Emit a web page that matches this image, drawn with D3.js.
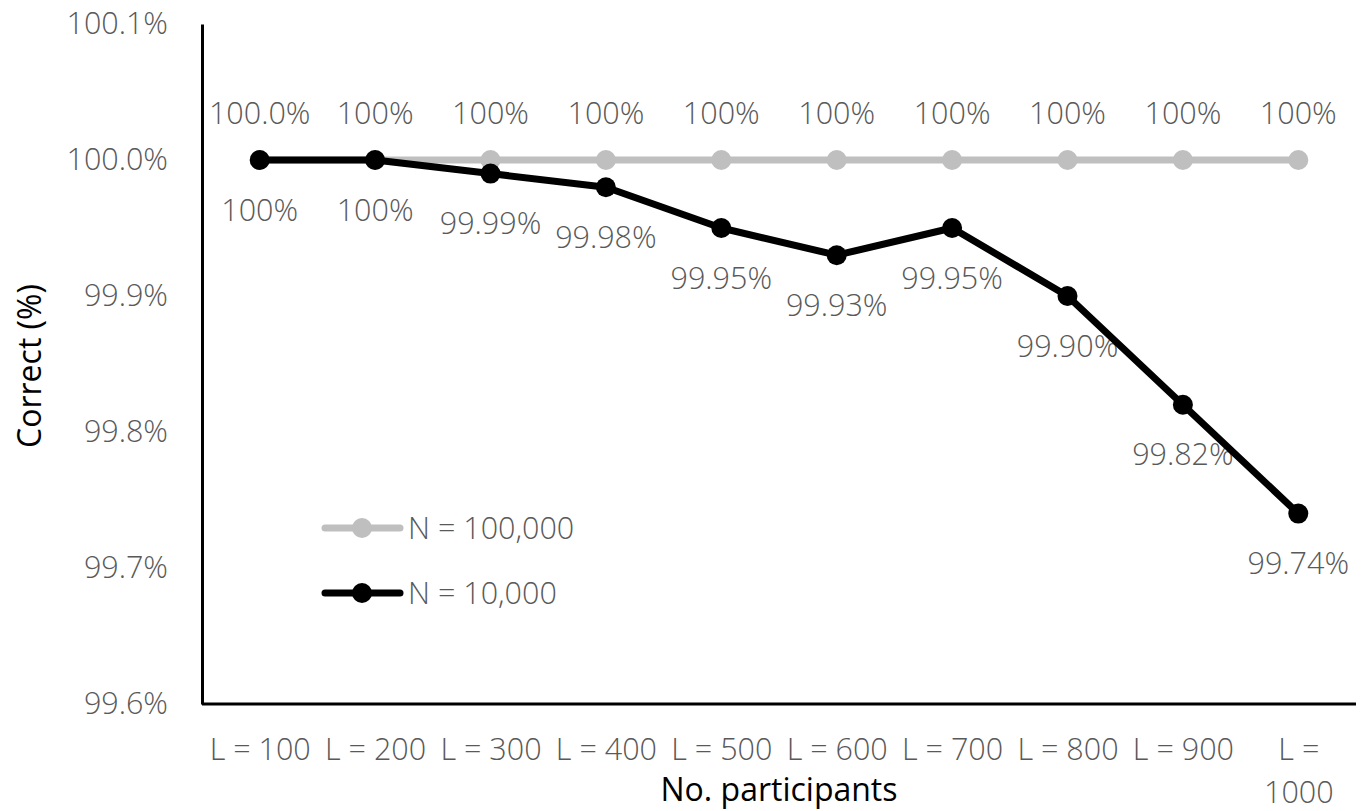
<!DOCTYPE html>
<html>
<head>
<meta charset="utf-8">
<script src="https://cdn.jsdelivr.net/npm/d3@7"></script>
<style>
  html, body { margin: 0; padding: 0; background: #fff; }
  svg { display: block; font-family: "Open Sans", "Liberation Sans", sans-serif; }
</style>
</head>
<body>
<svg id="chart" width="1366" height="811"></svg>
<script>
// Categories (number of participants per run)
const categories = ["L = 100", "L = 200", "L = 300", "L = 400", "L = 500",
                    "L = 600", "L = 700", "L = 800", "L = 900", "L = 1000"];

// Percentage correct for each population size
const seriesNames = ["N = 100,000", "N = 10,000"];
const valuesN100k = [100, 100, 100, 100, 100, 100, 100, 100, 100, 100];
const valuesN10k  = [100, 100, 99.99, 99.98, 99.95, 99.93, 99.95, 99.90, 99.82, 99.74];

// Data label text as printed next to each point
const labelsN100k = ["100.0%", "100%", "100%", "100%", "100%", "100%", "100%", "100%", "100%", "100%"];
const labelsN10k  = ["100%", "100%", "99.99%", "99.98%", "99.95%", "99.93%", "99.95%", "99.90%", "99.82%", "99.74%"];

// Y axis ticks
const yTicks = [99.6, 99.7, 99.8, 99.9, 100.0, 100.1];

const svg = d3.select("#chart");
const plot = { left: 202, right: 1356, top: 24, bottom: 704 };

const x = d3.scalePoint().domain(categories).range([plot.left, plot.right]).padding(0.5);
const y = d3.scaleLinear().domain([99.6, 100.1]).range([plot.bottom, plot.top]);

const labelColor = "#595959";
const fontSize = 30.5;
const titleSize = 32;
const labelWeight = 300;

// Y axis (line only, labels on the left)
const yAxis = d3.axisLeft(y).tickValues(yTicks).tickSize(0).tickPadding(34)
  .tickFormat(d => d.toFixed(1) + "%");
const gy = svg.append("g").attr("transform", `translate(${plot.left},0)`).call(yAxis);
gy.select(".domain").attr("stroke", "#000").attr("stroke-width", 3);
gy.selectAll("text").attr("fill", labelColor).attr("font-size", fontSize)
  .attr("font-weight", labelWeight)
  .attr("font-family", "'Open Sans', sans-serif");

// X axis
const xAxis = d3.axisBottom(x).tickSize(0).tickPadding(0).tickFormat("");
const gx = svg.append("g").attr("transform", `translate(0,${plot.bottom})`).call(xAxis);
gx.select(".domain").attr("stroke", "#000").attr("stroke-width", 3)
  .attr("d", `M${plot.left},0H${plot.right}`);

// X tick labels; the last one wraps onto two lines
gx.selectAll(".tick").each(function(d) {
  const t = d3.select(this).append("text")
    .attr("fill", labelColor).attr("font-size", fontSize)
    .attr("font-weight", labelWeight)
    .attr("text-anchor", "middle")
    .attr("font-family", "'Open Sans', sans-serif");
  if (d === "L = 1000") {
    t.append("tspan").attr("x", 0).attr("y", 56).text("L =");
    t.append("tspan").attr("x", 0).attr("y", 99).text("1000");
  } else {
    t.attr("y", 56).text(d);
  }
});

// Axis titles
svg.append("text")
  .attr("x", (plot.left + plot.right) / 2).attr("y", 801)
  .attr("text-anchor", "middle").attr("font-size", titleSize).attr("fill", "#000")
  .text("No. participants");
svg.append("text")
  .attr("transform", "translate(30,366) rotate(-90)")
  .attr("dy", "0.35em").attr("text-anchor", "middle")
  .attr("font-size", titleSize).attr("fill", "#000")
  .text("Correct (%)");

const series = [
  { name: seriesNames[0], values: valuesN100k, labels: labelsN100k, color: "#BFBFBF", labelDy: -47 },
  { name: seriesNames[1], values: valuesN10k,  labels: labelsN10k,  color: "#000000", labelDy: 50 }
];

// Data labels (drawn beneath the lines)
series.forEach(s => {
  svg.append("g").selectAll("text")
    .data(s.values)
    .join("text")
    .attr("x", (d, i) => x(categories[i]))
    .attr("y", d => y(d) + s.labelDy)
    .attr("dy", "0.35em")
    .attr("text-anchor", "middle")
    .attr("font-size", fontSize)
    .attr("font-weight", labelWeight)
    .attr("fill", labelColor)
    .text((d, i) => s.labels[i]);
});

// Lines and markers
const line = d3.line().x((d, i) => x(categories[i])).y(d => y(d));
series.forEach(s => {
  svg.append("path").datum(s.values)
    .attr("d", line).attr("fill", "none")
    .attr("stroke", s.color).attr("stroke-width", 7)
    .attr("stroke-linejoin", "round");
  svg.append("g").selectAll("circle")
    .data(s.values).join("circle")
    .attr("cx", (d, i) => x(categories[i]))
    .attr("cy", d => y(d))
    .attr("r", 10)
    .attr("fill", s.color);
});

// Legend
const legendY = [528, 593];
series.forEach((s, i) => {
  const g = svg.append("g").attr("transform", `translate(0,${legendY[i]})`);
  g.append("line").attr("x1", 325).attr("x2", 400).attr("y1", 0).attr("y2", 0)
    .attr("stroke", s.color).attr("stroke-width", 7).attr("stroke-linecap", "round");
  g.append("circle").attr("cx", 362).attr("cy", 0).attr("r", 10).attr("fill", s.color);
  g.append("text").attr("x", 408).attr("y", 0).attr("dy", "0.35em")
    .attr("font-size", fontSize).attr("font-weight", labelWeight)
    .attr("fill", labelColor).text(s.name);
});
</script>
</body>
</html>
